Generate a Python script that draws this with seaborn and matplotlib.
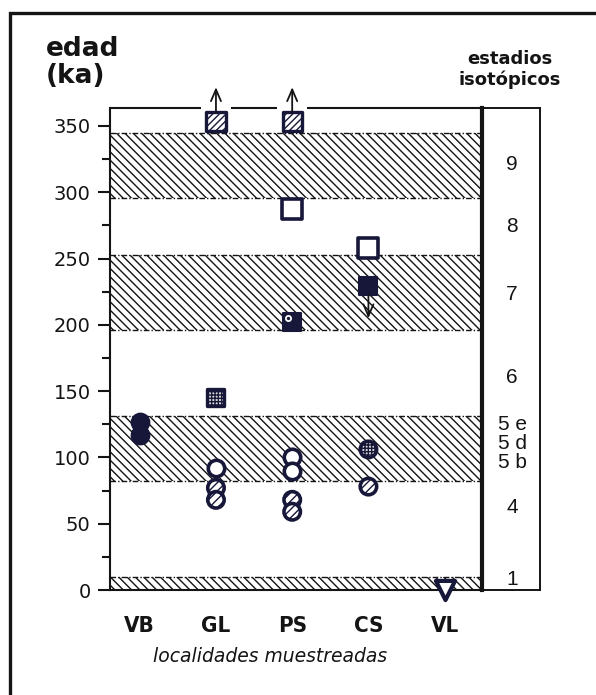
import numpy as np
import pandas as pd
import matplotlib
matplotlib.use("Agg")
import matplotlib.pyplot as plt
import matplotlib.transforms as mtransforms
from matplotlib.patches import Rectangle
import seaborn as sns

# ---------------- data ----------------
localities = ["VB", "GL", "PS", "CS", "VL"]

filled_circle_loc = ["VB", "VB"]
filled_circle_age = [127, 117]

open_circle_loc = ["GL", "PS", "PS"]
open_circle_age = [92, 100, 90]

hatched_circle_loc = ["GL", "GL", "PS", "PS", "CS"]
hatched_circle_age = [77, 68, 68, 59, 78]

stipple_circle_loc = ["CS"]
stipple_circle_age = [106]

stipple_square_loc = ["GL"]
stipple_square_age = [145]

min_square_loc = ["GL", "PS"]          # hatched squares, minimum ages (arrow up)
min_square_age = [353, 353]

open_square_loc = ["PS", "CS"]
open_square_age = [287, 258]

dot_square_loc = ["PS"]
dot_square_age = [202]

max_square_loc = ["CS"]                # filled square, maximum age (arrow down)
max_square_age = [229]

triangle_loc = ["VL"]
triangle_age = [0]

# isotopic stage bands (hatched)
band_low = [0, 82, 196, 296]
band_high = [10, 131.5, 253, 345]
stage_labels = ["9", "8", "7", "6", "5 e", "5 d", "5 b", "4", "1"]
stage_pos = [321, 274, 223, 160, 125, 110.5, 96, 62, 8]

yticks = [0, 50, 100, 150, 200, 250, 300, 350]

# ---------------- style ----------------
sns.set_theme(style="white")
plt.rcParams["font.family"] = ["DejaVu Sans"]
plt.rcParams["hatch.linewidth"] = 1.0
INK = "#141414"
NAVY = "#17173a"

W, H = 596, 695
fig = plt.figure(figsize=(W / 100, H / 100), dpi=100)
fig.patch.set_facecolor("white")

def fx(px):
    return px / W

def fy(py):
    return 1 - py / H

ax_left, ax_right, ax_top, ax_bot = 110, 482, 108, 590
ax = fig.add_axes([fx(ax_left), fy(ax_bot), fx(ax_right - ax_left), fy(ax_top) - fy(ax_bot)])
axs = fig.add_axes([fx(ax_right), fy(ax_bot), fx(540 - ax_right), fy(ax_top) - fy(ax_bot)])

pos = {k: i for i, k in enumerate(localities)}

def frame(locs, ages):
    return pd.DataFrame({"x": [pos[l] for l in locs], "age": ages})

# bands
for lo, hi in zip(band_low, band_high):
    ax.axhspan(lo, hi, facecolor="none", edgecolor=INK, hatch="\\\\\\\\", linewidth=0, zorder=1)
    for yy in (lo, hi):
        if yy > 0:
            ax.axhline(yy, color=INK, lw=1.0, ls=(0, (4, 1.5, 1, 1.5)), zorder=2)

common = dict(ax=ax, clip_on=False, zorder=6, legend=False)

# circles
sns.scatterplot(data=frame(filled_circle_loc, filled_circle_age), x="x", y="age", marker="o",
                s=150, facecolor=NAVY, edgecolor=NAVY, linewidth=2.0, **common)
sns.scatterplot(data=frame(open_circle_loc, open_circle_age), x="x", y="age", marker="o",
                s=140, facecolor="white", edgecolor=NAVY, linewidth=2.6, **common)
sns.scatterplot(data=frame(hatched_circle_loc, hatched_circle_age), x="x", y="age", marker="o",
                s=140, facecolor="white", edgecolor=NAVY, linewidth=2.6, hatch="////", **common)
sns.scatterplot(data=frame(stipple_circle_loc, stipple_circle_age), x="x", y="age", marker="o",
                s=140, facecolor="#d8d8d8", edgecolor=NAVY, linewidth=2.6, hatch="+++++", **common)

# squares
sns.scatterplot(data=frame(stipple_square_loc, stipple_square_age), x="x", y="age", marker="s",
                s=150, facecolor="#d8d8d8", edgecolor=NAVY, linewidth=2.4, hatch="+++++", **common)
sns.scatterplot(data=frame(min_square_loc, min_square_age), x="x", y="age", marker="s",
                s=190, facecolor="white", edgecolor=NAVY, linewidth=2.4, hatch="/////", **common)
sns.scatterplot(data=frame(open_square_loc, open_square_age), x="x", y="age", marker="s",
                s=190, facecolor="white", edgecolor=NAVY, linewidth=2.6, **common)
sns.scatterplot(data=frame(dot_square_loc, dot_square_age), x="x", y="age", marker="s",
                s=170, facecolor=NAVY, edgecolor=NAVY, linewidth=1.5, **common)
sns.scatterplot(data=frame(max_square_loc, max_square_age), x="x", y="age", marker="s",
                s=170, facecolor=NAVY, edgecolor=NAVY, linewidth=1.5, **common)
# small white dot inside the dotted square (upper-left)
dot_tr = ax.transData + mtransforms.ScaledTranslation(-3 / 72, 3 / 72, fig.dpi_scale_trans)
dsq = frame(dot_square_loc, dot_square_age)
ax.scatter(dsq["x"], dsq["age"], marker="o", s=16, facecolor="white", edgecolor="white",
           transform=dot_tr, zorder=7, clip_on=False)
ax.scatter(dsq["x"], dsq["age"], marker="o", s=2, facecolor=NAVY, edgecolor=NAVY,
           transform=dot_tr, zorder=8, clip_on=False)

# triangle
sns.scatterplot(data=frame(triangle_loc, triangle_age), x="x", y="age", marker="v",
                s=190, facecolor="white", edgecolor=NAVY, linewidth=3.0, **common)

# arrows
for l, a in zip(min_square_loc, min_square_age):
    ax.annotate("", xy=(pos[l], a), xytext=(0, 25), textcoords="offset points",
                arrowprops=dict(arrowstyle="<-,head_length=0.7,head_width=0.3", color=INK, lw=1.3,
                                shrinkA=0, shrinkB=7), annotation_clip=False, zorder=7)
for l, a in zip(max_square_loc, max_square_age):
    ax.annotate("", xy=(pos[l], a), xytext=(0, -23), textcoords="offset points",
                arrowprops=dict(arrowstyle="<-,head_length=0.7,head_width=0.3", color=INK, lw=1.3,
                                shrinkA=0, shrinkB=6), annotation_clip=False, zorder=7)

# axes limits & spines
ax.set_xlim(-0.39, 4.49)
ax.set_ylim(0, 363.5)
ax.set_facecolor("none")
for s in ax.spines.values():
    s.set_color(INK)
ax.spines["left"].set_linewidth(1.5)
ax.spines["bottom"].set_linewidth(1.5)
ax.spines["right"].set_visible(False)
ax.spines["top"].set_visible(False)

# top border with gaps around the minimum-age arrows
gap = 0.2
gaps = sorted(pos[l] for l in min_square_loc)
edges = [-0.39]
for g in gaps:
    edges += [g - gap, g + gap]
edges.append(4.49)
for a0, a1 in zip(edges[0::2], edges[1::2]):
    ax.plot([a0, a1], [1, 1], transform=ax.get_xaxis_transform(), color=INK, lw=1.5,
            clip_on=False, solid_capstyle="butt")

ax.set_yticks(yticks)
ax.set_yticks([t + 25 for t in yticks[:-1]], minor=True)
ax.set_yticklabels([str(t) for t in yticks], fontsize=14, color=INK)
ax.tick_params(axis="y", which="major", direction="out", length=9, width=1.5, color=INK,
               pad=5, left=True)
ax.tick_params(axis="y", which="minor", direction="out", length=6, width=1.5, color=INK, left=True)

ax.set_xticks(range(len(localities)))
ax.set_xticklabels(localities, fontsize=16, fontweight="bold", color=INK, fontstretch="condensed")
ax.tick_params(axis="x", length=0, pad=19)
ax.set_xlabel("")
ax.set_ylabel("")
ax.text((270 - ax_left) / (ax_right - ax_left), (ax_bot - 656) / (ax_bot - ax_top), "localidades muestreadas",
        transform=ax.transAxes, ha="center", va="center", fontsize=13.5, style="italic", color=INK)

# stages column
axs.set_ylim(0, 363.5)
axs.set_xlim(0, 1)
axs.set_xticks([])
axs.set_yticks([])
axs.set_facecolor("white")
for k, s in axs.spines.items():
    s.set_color(INK)
    s.set_linewidth(1.4)
axs.spines["left"].set_linewidth(3.0)
for lab, yv in zip(stage_labels, stage_pos):
    axs.text(0.52, yv, lab, ha="center", va="center", fontsize=15, color=INK,
             family=["Liberation Sans", "DejaVu Sans"], linespacing=1.0)

# titles
fig.text(fx(46), fy(36), "edad\n(ka)", ha="left", va="top", fontsize=19, fontweight="bold",
         color=INK, linespacing=1.05)
fig.text(fx(510), fy(50), "estadios\nisotópicos", ha="center", va="top", fontsize=13,
         fontweight="bold", color=INK, linespacing=1.15)

# outer frame
fig.patches.append(Rectangle((fx(10), -0.2), 1.5, fy(13) + 0.2, transform=fig.transFigure,
                             fill=False, lw=2.4, ec=INK, zorder=0))

fig.savefig("out.png", dpi=100, facecolor="white")
